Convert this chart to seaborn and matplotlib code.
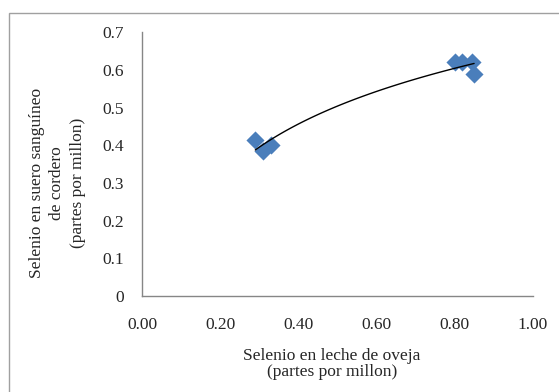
import numpy as np
import pandas as pd
import seaborn as sb
import matplotlib
matplotlib.use("Agg")
import matplotlib.pyplot as plt
from matplotlib.patches import Rectangle

# datos
leche = [0.29, 0.31, 0.33, 0.80, 0.82, 0.845, 0.85]
suero = [0.415, 0.385, 0.40, 0.62, 0.62, 0.62, 0.59]
xticks = [0.0, 0.2, 0.4, 0.6, 0.8, 1.0]
yticks = [0, 0.1, 0.2, 0.3, 0.4, 0.5, 0.6, 0.7]

df = pd.DataFrame({"leche": leche, "suero": suero})

sb.set_style("white")
plt.rcParams['font.family'] = ['Liberation Serif', 'DejaVu Serif']

fig = plt.figure(figsize=(5.59, 3.92), dpi=100)
ax = fig.add_axes([0.254, 0.245, 0.699, 0.673])

sb.scatterplot(data=df, x="leche", y="suero", marker="D", s=85,
               color="#4a7ebb", edgecolor="#4a7ebb", linewidth=0, ax=ax, zorder=2)

# linea de tendencia logaritmica
a, b = np.polyfit(np.log(df["leche"]), df["suero"], 1)
xs = np.linspace(df["leche"].min(), df["leche"].max(), 100)
ax.plot(xs, a * np.log(xs) + b, color="black", lw=1, zorder=3)

ax.set_xlim(0, 1)
ax.set_ylim(0, 0.7)
ax.set_xticks(xticks)
ax.set_yticks(yticks)
ax.set_xticklabels(["%.2f" % v for v in xticks])
ax.set_yticklabels(["%g" % v for v in yticks])
ax.tick_params(length=0, labelsize=12.5)
ax.tick_params(axis="y", pad=13)
ax.tick_params(axis="x", pad=15)

for s in ["top", "right"]:
    ax.spines[s].set_visible(False)
for s in ["left", "bottom"]:
    ax.spines[s].set_color("#868686")
    ax.spines[s].set_linewidth(1)

ax.set_xlabel("Selenio en leche de oveja\n(partes por millon)", fontsize=12.5,
              linespacing=1.0)
ax.xaxis.set_label_coords(0.486, -0.196)
ax.set_ylabel("Selenio en suero sanguíneo\nde cordero\n(partes por millon)", fontsize=12.5,
              linespacing=1.4)
ax.yaxis.set_label_coords(-0.143, 0.428)

# marco exterior
fig.patches.append(Rectangle((9 / 559, -0.1), 1.2, 1 - 13 / 392 + 0.1,
                             transform=fig.transFigure, fill=False,
                             edgecolor="#a0a0a0", lw=1))

fig.savefig("out.png", dpi=100)
